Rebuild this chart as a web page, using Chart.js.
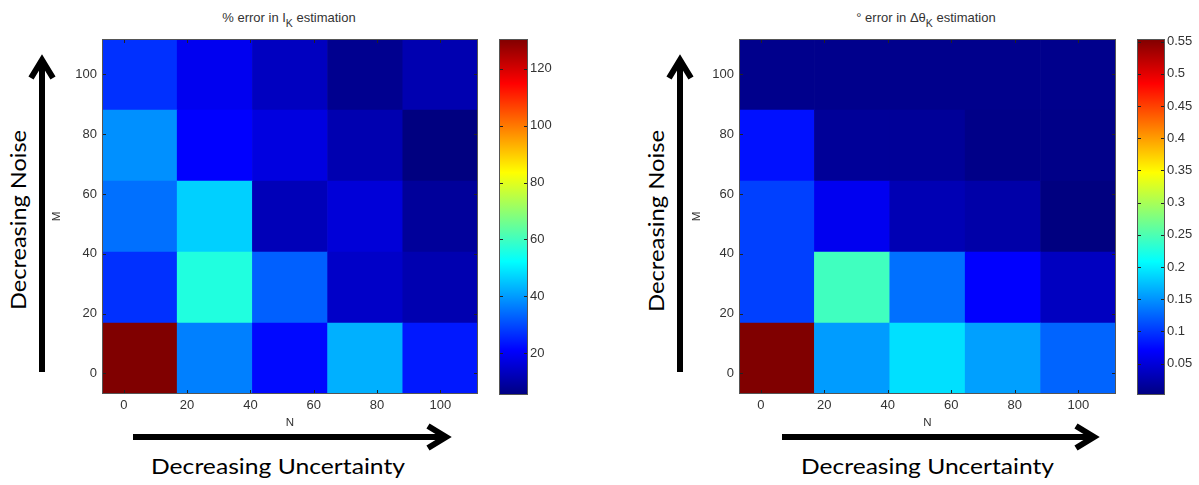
<!DOCTYPE html>
<html>
<head>
<meta charset="utf-8">
<title>Estimation error maps</title>
<script src="https://cdn.jsdelivr.net/npm/chart.js@4.4.1/dist/chart.umd.min.js"></script>
<style>
  html, body { margin: 0; padding: 0; background: #fff; }
  #page { position: relative; width: 1199px; height: 485px; overflow: hidden; }
  #page canvas, #page svg { position: absolute; }
</style>
</head>
<body>
<div id="page">
  <svg id="notes" width="1199" height="485" style="left:0;top:0">
    <!-- direction arrows -->
    <g fill="none" stroke="#000" stroke-width="6">
      <line x1="42" y1="372" x2="42" y2="60"/>
      <polyline points="31,78 42,60 53,78"/>
      <line x1="133" y1="437" x2="446" y2="437"/>
      <polyline points="428,426 446,437 428,448"/>
      <line x1="680" y1="372" x2="680" y2="60"/>
      <polyline points="669,78 680,60 691,78"/>
      <line x1="782" y1="437" x2="1094" y2="437"/>
      <polyline points="1076,426 1094,437 1076,448"/>
    </g>
    <g font-family="Lato, 'Open Sans', sans-serif" font-size="21" fill="#000">
      <text transform="translate(26,310) rotate(-90)" textLength="180" lengthAdjust="spacingAndGlyphs">Decreasing Noise</text>
      <text x="151" y="474" textLength="254" lengthAdjust="spacingAndGlyphs">Decreasing Uncertainty</text>
      <text transform="translate(664,312) rotate(-90)" textLength="182" lengthAdjust="spacingAndGlyphs">Decreasing Noise</text>
      <text x="801" y="474" textLength="253" lengthAdjust="spacingAndGlyphs">Decreasing Uncertainty</text>
    </g>
    <!-- panel titles -->
    <g font-family="'Liberation Sans', Arial, sans-serif" font-size="13" fill="#333" text-anchor="middle">
      <text x="289" y="22">% error in I<tspan dy="5" font-size="10.5">K</tspan><tspan dy="-5"> estimation</tspan></text>
      <text x="926" y="22">° error in Δθ<tspan dy="5" font-size="10.5">K</tspan><tspan dy="-5"> estimation</tspan></text>
    </g>
  </svg>
  <canvas id="mapI" width="448" height="400" style="left:40px;top:34px"></canvas>
  <canvas id="barI" width="70" height="366" style="left:499px;top:34px"></canvas>
  <canvas id="mapT" width="449" height="400" style="left:677px;top:34px"></canvas>
  <canvas id="barT" width="62" height="366" style="left:1137px;top:34px"></canvas>
</div>
<script>
// grid of the parameter sweep (cell centres)
const nValues = [5, 28.75, 52.5, 76.25, 100];
const mValues = [5, 28.75, 52.5, 76.25, 100];
const axisTicks = [0, 20, 40, 60, 80, 100];

// % error in I_K, one row per M (M = 5 first), columns follow nValues
const intensityErr = [
  [130.5, 36.7, 21.9, 42.5, 23.9],
  [26.8, 56.2, 32.7, 14.2, 11.2],
  [34.7, 46.5, 12.2, 16.2, 8.6],
  [38.6, 20.9, 17.1, 11.2, 5.3],
  [26.8, 19.1, 13.2, 7.2, 11.2]
];
const intensityTicks = [20, 40, 60, 80, 100, 120];

// degree error in delta theta_K, same layout
const angleErr = [
  [0.554, 0.155, 0.192, 0.157, 0.1246],
  [0.1051, 0.2433, 0.1313, 0.0705, 0.0362],
  [0.1051, 0.0622, 0.0299, 0.0233, 0.0014],
  [0.0792, 0.0147, 0.0147, 0.0058, 0.0058],
  [0.0082, 0.0082, 0.0082, 0.0082, 0.0082]
];
const angleTicks = [0.05, 0.1, 0.15, 0.2, 0.25, 0.3, 0.35, 0.4, 0.45, 0.5, 0.55];

Chart.defaults.font.family = "'Liberation Sans', Arial, sans-serif";
Chart.defaults.font.size = 13;
Chart.defaults.color = '#333';

// matlab style jet colormap
function jet(t) {
  t = Math.min(1, Math.max(0, t));
  const c = (v) => Math.round(255 * Math.min(1, Math.max(0, v)));
  const r = Math.min(4 * t - 1.5, -4 * t + 4.5);
  const g = Math.min(4 * t - 0.5, -4 * t + 3.5);
  const b = Math.min(4 * t + 0.5, -4 * t + 2.5);
  return 'rgb(' + c(r) + ',' + c(g) + ',' + c(b) + ')';
}
const jetStops = [0, 0.125, 0.375, 0.625, 0.875, 1];

// box around the plot plus small inward tick marks on every side
const framePlugin = {
  id: 'frame',
  afterDatasetsDraw(chart, args, opts) {
    const { ctx, chartArea: a } = chart;
    const len = opts.len || 4;
    ctx.save();
    ctx.lineWidth = 1;
    ctx.strokeStyle = '#222';
    ctx.beginPath();
    if (opts.xScale) {
      const sx = chart.scales[opts.xScale];
      opts.xTicks.forEach(v => {
        const x = Math.round(sx.getPixelForValue(v)) + 0.5;
        ctx.moveTo(x, a.bottom); ctx.lineTo(x, a.bottom - len);
        ctx.moveTo(x, a.top); ctx.lineTo(x, a.top + len);
      });
    }
    const sy = chart.scales[opts.yScale];
    opts.yTicks.forEach(v => {
      const y = Math.round(sy.getPixelForValue(v)) + 0.5;
      ctx.moveTo(a.left, y); ctx.lineTo(a.left + len, y);
      ctx.moveTo(a.right, y); ctx.lineTo(a.right - len, y);
    });
    ctx.stroke();
    ctx.strokeStyle = '#555';
    ctx.strokeRect(a.left + 0.5, a.top + 0.5, a.right - a.left - 1, a.bottom - a.top - 1);
    ctx.restore();
  }
};

function fixedTicks(list) {
  return (scale) => { scale.ticks = list.map(v => ({ value: v })); };
}

// pin an axis box to a set size and drop the label overhang padding
function fixedSize(prop, size) {
  return (s) => {
    s[prop] = size;
    s.paddingTop = 0; s.paddingBottom = 0;
    s.paddingLeft = 0; s.paddingRight = 0;
  };
}

function heatmap(id, grid, mTitlePad) {
  const flat = grid.flat();
  const lo = Math.min(...flat);
  const hi = Math.max(...flat);
  const half = (nValues[1] - nValues[0]) / 2;
  const datasets = mValues.map((m, i) => ({
    data: grid[i].map(() => [m - half, m + half]),
    backgroundColor: grid[i].map(v => jet((v - lo) / (hi - lo))),
    grouped: false,
    barPercentage: 1,
    categoryPercentage: 1,
    borderWidth: 0
  }));
  return new Chart(document.getElementById(id), {
    type: 'bar',
    data: { labels: nValues.map(String), datasets },
    options: {
      responsive: false,
      animation: false,
      layout: { padding: { top: 5, right: 10, left: 0, bottom: 0 } },
      plugins: {
        legend: { display: false },
        tooltip: { enabled: false },
        frame: { xScale: 'n', xTicks: axisTicks, yScale: 'y', yTicks: axisTicks }
      },
      scales: {
        x: { display: false },
        n: {
          type: 'linear',
          position: 'bottom',
          offset: false,
          min: nValues[0] - half,
          max: nValues[nValues.length - 1] + half,
          afterBuildTicks: fixedTicks(axisTicks),
          afterFit: fixedSize('height', 40),
          grid: { display: false, drawTicks: false, offset: false },
          border: { display: false },
          ticks: { padding: 4, maxRotation: 0, autoSkip: false },
          title: { display: true, text: 'N', font: { size: 11.5 }, padding: { top: 4, bottom: 4 } }
        },
        y: {
          type: 'linear',
          min: mValues[0] - half,
          max: mValues[mValues.length - 1] + half,
          afterBuildTicks: fixedTicks(axisTicks),
          afterFit: fixedSize('width', 62),
          grid: { display: false, drawTicks: false },
          border: { display: false },
          ticks: { padding: 5, autoSkip: false },
          title: { display: true, text: 'M', font: { size: 11.5 }, padding: { top: mTitlePad, bottom: 0 } }
        }
      }
    },
    plugins: [framePlugin]
  });
}

function colorbar(id, grid, ticks, axisWidth) {
  const flat = grid.flat();
  const lo = Math.min(...flat);
  const hi = Math.max(...flat);
  return new Chart(document.getElementById(id), {
    type: 'bar',
    data: {
      labels: [''],
      datasets: [{
        data: [[lo, hi]],
        barPercentage: 1,
        categoryPercentage: 1,
        borderWidth: 0,
        backgroundColor: (ctx) => {
          const area = ctx.chart.chartArea;
          if (!area) return jet(0);
          const g = ctx.chart.ctx.createLinearGradient(0, area.bottom, 0, area.top);
          jetStops.forEach(t => g.addColorStop(t, jet(t)));
          return g;
        }
      }]
    },
    options: {
      responsive: false,
      animation: false,
      layout: { padding: { top: 5, bottom: 5, left: 0, right: 0 } },
      plugins: {
        legend: { display: false },
        tooltip: { enabled: false },
        frame: { yScale: 'y', yTicks: ticks }
      },
      scales: {
        x: { display: false },
        y: {
          position: 'right',
          min: lo,
          max: hi,
          afterBuildTicks: fixedTicks(ticks),
          afterFit: fixedSize('width', axisWidth),
          grid: { display: false, drawTicks: false },
          border: { display: false },
          ticks: { padding: 2, autoSkip: false, callback: (v) => String(v) }
        }
      }
    },
    plugins: [framePlugin]
  });
}

heatmap('mapI', intensityErr, 10);
colorbar('barI', intensityErr, intensityTicks, 41);
heatmap('mapT', angleErr, 13);
colorbar('barT', angleErr, angleTicks, 34);
</script>
</body>
</html>
